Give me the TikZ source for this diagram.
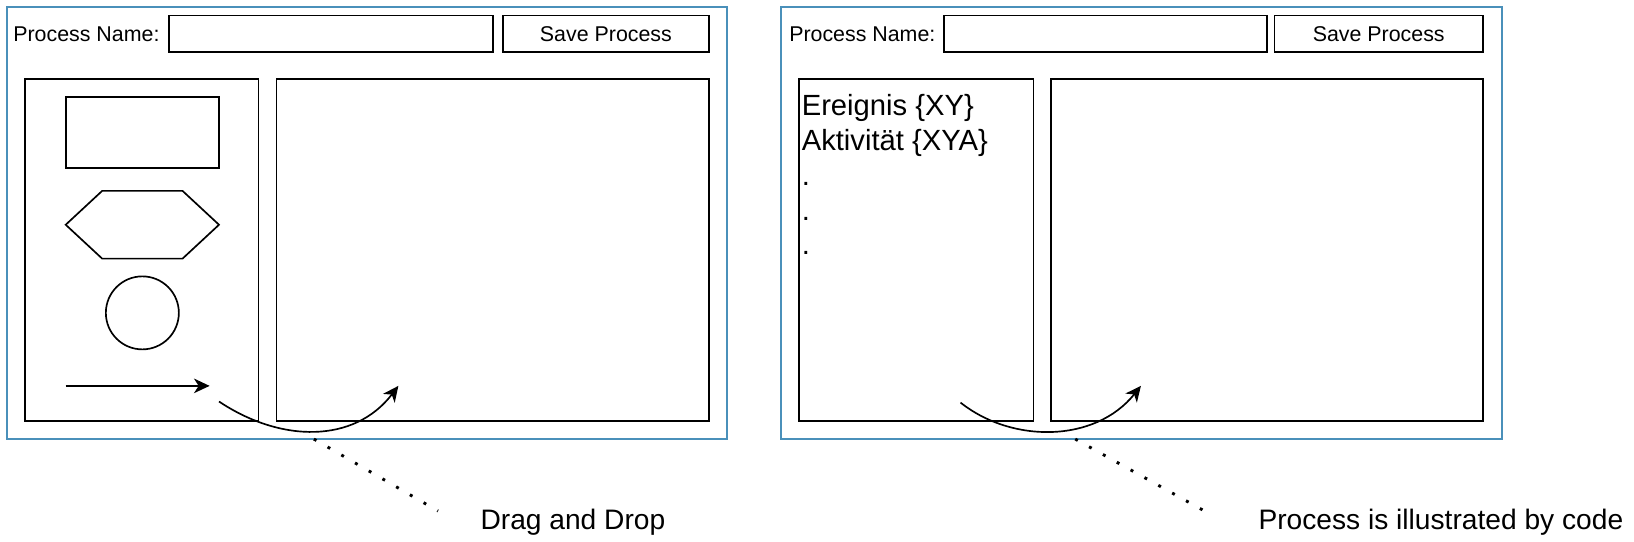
\documentclass[tikz,border=0pt]{standalone}
\usepackage{fontspec}
\setmainfont{Liberation Sans}
\usetikzlibrary{positioning, arrows.meta}
\definecolor{framecol}{RGB}{74,144,186}

\begin{document}
\begin{tikzpicture}[x=1pt, y=-1pt, line width=1.6pt,
    win/.style={draw=framecol, line width=1.7pt, rectangle, inner sep=0pt},
    box/.style={draw, rectangle, inner sep=0pt},
    small/.style={inner sep=0pt, font=\fontsize{20.5}{24}\selectfont},
    big/.style={inner sep=0pt, font=\fontsize{27}{32}\selectfont},
    tip/.style={-{Stealth[length=15pt, width=14pt, inset=4.5pt]}},
    dots/.style={line width=2.8pt, dash pattern=on 2.8pt off 12.4pt}]
  \useasboundingbox (0,0) rectangle (1566.8,519.7);

  % left window: drag and drop editor
  \node[win, minimum width=690pt, minimum height=414pt] (winL) at (352,214) {};
  \node[small, anchor=west] (nameL) at (12,33) {Process Name:};
  \node[box, minimum width=311pt, minimum height=35pt] (fieldL) at (317.5,32.5) {};
  \node[box, minimum width=198pt, minimum height=35pt] (saveL) at (581,32.5) {};
  \node[small] at (saveL) {Save Process};
  \node[box, minimum width=224pt, minimum height=328pt] (palette) at (136,240) {};
  \node[box, minimum width=415pt, minimum height=328pt] (canvasL) at (472.5,240) {};
  \node[box, minimum width=147pt, minimum height=68pt] (rect) at (136.5,127) {};
  \draw (63,215.5) -- (98,183) -- (175,183) -- (210,215.5) -- (175,248) -- (98,248) -- cycle;
  \node[draw, circle, minimum size=70pt, inner sep=0pt] (circ) at (136.5,300) {};
  \coordinate (arrS) at (63,370);
  \coordinate (arrE) at (201,370);
  \draw[tip] (arrS) -- (arrE);
  \coordinate (dragS) at (210,385);
  \coordinate (dragE) at (382,370);
  \draw[tip] (dragS) .. controls (270,425) and (340,425) .. (dragE);
  \coordinate (noteL) at (301,421);
  \coordinate (noteLend) at (420,490);
  \draw[dots] (noteL) -- (noteLend);
  \node[big, anchor=base west] (dragTxt) at (460,508) {Drag and Drop};

  % right window: process from code
  \node[win, minimum width=691pt, minimum height=414pt] (winR) at (1094.5,214) {};
  \node[small, anchor=west] (nameR) at (756,33) {Process Name:};
  \node[box, minimum width=310pt, minimum height=35pt] (fieldR) at (1060,32.5) {};
  \node[box, minimum width=200pt, minimum height=35pt] (saveR) at (1322,32.5) {};
  \node[small] at (saveR) {Save Process};
  \node[box, minimum width=225pt, minimum height=328pt] (list) at (878.5,240) {};
  \node[box, minimum width=414pt, minimum height=328pt] (canvasR) at (1215,240) {};
  \node[inner sep=0pt, anchor=north west, align=left,
        font=\fontsize{28}{33.3}\selectfont] (items) at (768,90)
        {Ereignis \{XY\}\\Aktivität \{XYA\}\\.\\.\\.};
  \coordinate (codeS) at (921,386);
  \coordinate (codeE) at (1094,370);
  \draw[tip] (codeS) .. controls (970,425) and (1050,425) .. (codeE);
  \coordinate (noteR) at (1031,421);
  \coordinate (noteRend) at (1155,490);
  \draw[dots] (noteR) -- (noteRend);
  \node[big, anchor=base west] (codeTxt) at (1206,508) {Process is illustrated by code};
\end{tikzpicture}
\end{document}
